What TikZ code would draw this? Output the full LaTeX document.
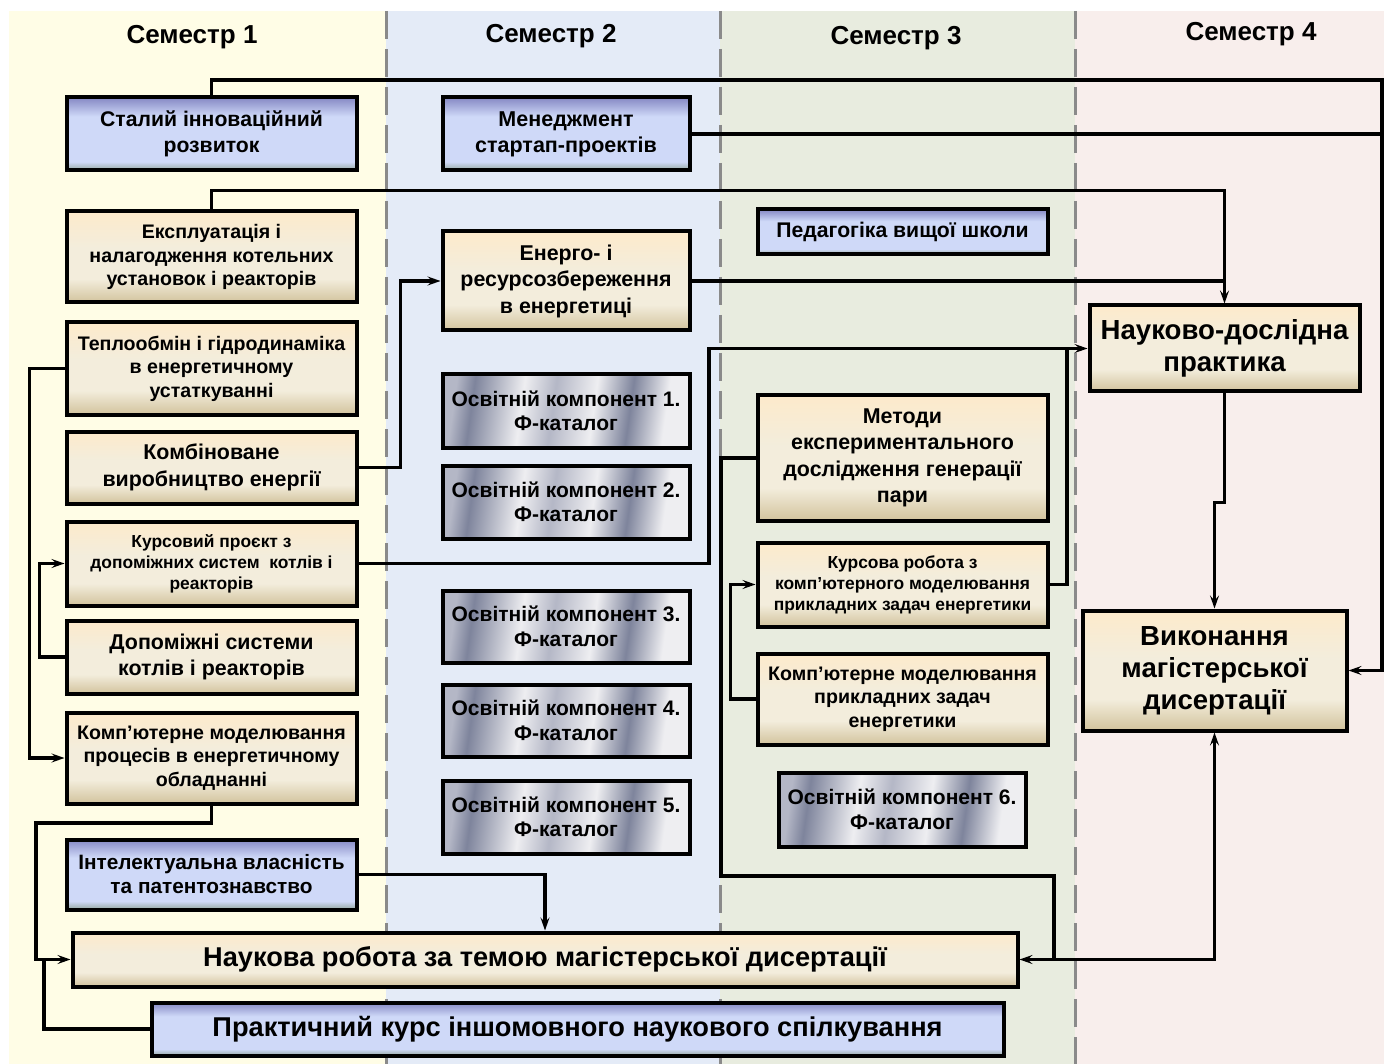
\documentclass[tikz,border=0pt]{standalone}
\usepackage{fontspec}
\setmainfont{Liberation Sans}
\usetikzlibrary{arrows.meta,calc}
\definecolor{cOne}{HTML}{FFFDE6}
\definecolor{cTwo}{HTML}{E4EBF7}
\definecolor{cThree}{HTML}{E8ECDF}
\definecolor{cFour}{HTML}{F8EEEC}
\definecolor{divc}{HTML}{8A8A8A}
\definecolor{bgT}{HTML}{FDEACB}
\definecolor{bgM}{HTML}{F3EDDC}
\definecolor{bgB}{HTML}{D2C39D}
\definecolor{blT}{HTML}{8588C4}
\definecolor{blL}{HTML}{CFD9F8}
\definecolor{blB}{HTML}{95A8A0}
\definecolor{mD}{HTML}{7E849C}
\definecolor{mL}{HTML}{EEEEF1}
\definecolor{mM}{HTML}{B4B7C6}
\pgfdeclareverticalshading{beigesh}{100bp}{color(0bp)=(bgB); color(25bp)=(bgB); color(38bp)=(bgM); color(55bp)=(bgM); color(75bp)=(bgT); color(100bp)=(bgT)}
\pgfdeclareverticalshading{bluesh}{100bp}{color(0bp)=(blB); color(25bp)=(blB); color(31bp)=(blL); color(62bp)=(blL); color(75bp)=(blT); color(100bp)=(blT)}
\pgfdeclarehorizontalshading{metalsh}{100bp}{color(0bp)=(mM); color(25bp)=(mM); color(29bp)=(mD); color(40bp)=(mL); color(47bp)=(mM); color(56bp)=(mL); color(64bp)=(mD); color(72bp)=(mL); color(75bp)=(mL); color(100bp)=(mL)}
\newcommand\fsHead{\fontsize{26}{30}\selectfont}
\newcommand\fsNorm{\fontsize{19.6}{23.5}\selectfont}
\newcommand\fsMid{\fontsize{21.2}{26}\selectfont}
\newcommand\fsOK{\fontsize{21}{24.5}\selectfont}
\newcommand\fsBigL{\fontsize{21.4}{26.5}\selectfont}
\newcommand\fsSmall{\fontsize{17.4}{21}\selectfont}
\newcommand\fsLarge{\fontsize{27.6}{32}\selectfont}
\newcommand\fsWide{\fontsize{27.2}{30}\selectfont}
\begin{document}
\begin{tikzpicture}[x=1pt,y=-1pt,
  box/.style={draw=black, line width=4pt, align=center, inner sep=1pt, font=\bfseries},
  bbox/.style={box, shading=beigesh},
  ubox/.style={box, shading=bluesh},
  mbox/.style={box, shading=metalsh, shading angle=-8},
  hdr/.style={font=\bfseries\fsHead},
  ln/.style={line width=3.2pt},
  arr/.style={ln, -{Stealth[length=13pt,width=9pt,inset=5pt]}},
  darr/.style={ln, {Stealth[length=13pt,width=9pt,inset=5pt]}-{Stealth[length=13pt,width=9pt,inset=5pt]}},
  divline/.style={divc, line width=3pt, dash pattern=on 28pt off 10pt}
]
\useasboundingbox (0,0) rectangle (1384,1064);
% column backgrounds
\fill[cOne] (9,11) rectangle (386,1064);
\fill[cTwo] (386,11) rectangle (720,1064);
\fill[cThree] (720,11) rectangle (1075,1064);
\fill[cFour] (1075,11) rectangle (1384,1064);
\draw[divline] (386,11) -- (386,1064);
\draw[divline] (720,11) -- (720,1064);
\draw[divline] (1075,11) -- (1075,1064);
% headers
\node[hdr] (h1) at (192,37) {Семестр 1};
\node[hdr] (h2) at (551,36) {Семестр 2};
\node[hdr] (h3) at (896,38) {Семестр 3};
\node[hdr] (h4) at (1251,34) {Семестр 4};
% column 1
\node[ubox, minimum width=290pt, minimum height=73pt, font=\bfseries\fsMid] (stal) at (211.5,134) {Сталий інноваційний\\розвиток};
\node[bbox, minimum width=290pt, minimum height=91pt, font=\bfseries\fsNorm] (ekspl) at (211.5,257) {Експлуатація і\\налагодження котельних\\установок і реакторів};
\node[bbox, minimum width=290pt, minimum height=92pt, font=\bfseries\fsNorm] (teplo) at (211.5,368.5) {Теплообмін і гідродинаміка\\в енергетичному\\устаткуванні};
\node[bbox, minimum width=290pt, minimum height=72pt, font=\bfseries\fsBigL] (kombi) at (211.5,467.5) {Комбіноване\\виробництво енергії};
\node[bbox, minimum width=290pt, minimum height=84pt, font=\bfseries\fsSmall] (kursp) at (211.5,563.5) {Курсовий проєкт з\\допоміжних систем\ \ котлів і\\реакторів};
\node[bbox, minimum width=290pt, minimum height=73pt, font=\bfseries\fsBigL] (dopom) at (211.5,657) {Допоміжні системи\\котлів і реакторів};
\node[bbox, minimum width=290pt, minimum height=91pt, font=\bfseries\fsNorm] (kompp) at (211.5,758) {Комп'ютерне моделювання\\процесів в енергетичному\\обладнанні};
\node[ubox, minimum width=290pt, minimum height=70pt, font=\bfseries\fontsize{20.8}{24}\selectfont] (intel) at (211.5,874.5) {Інтелектуальна власність\\та патентознавство};
\node[bbox, minimum width=945pt, minimum height=54pt, font=\bfseries\fsWide] (nauk) at (545,959.5) {Наукова робота за темою магістерської дисертації};
\node[ubox, minimum width=852pt, minimum height=53pt, font=\bfseries\fsWide] (prakt) at (577.5,1029) {Практичний курс іншомовного наукового спілкування};
% column 2
\node[ubox, minimum width=247pt, minimum height=73pt, font=\bfseries\fontsize{21.5}{26}\selectfont] (men) at (566,134) {Менеджмент\\стартап-проектів};
\node[bbox, minimum width=247pt, minimum height=99pt, font=\bfseries\fsBigL] (energo) at (566,281) {Енерго- і\\ресурсозбереження\\в енергетиці};
\node[mbox, minimum width=247pt, minimum height=73pt, font=\bfseries\fsOK] (ok1) at (566,411) {Освітній компонент 1.\\Ф-каталог};
\node[mbox, minimum width=247pt, minimum height=73pt, font=\bfseries\fsOK] (ok2) at (566,502) {Освітній компонент 2.\\Ф-каталог};
\node[mbox, minimum width=247pt, minimum height=72pt, font=\bfseries\fsOK] (ok3) at (566,626.5) {Освітній компонент 3.\\Ф-каталог};
\node[mbox, minimum width=247pt, minimum height=72pt, font=\bfseries\fsOK] (ok4) at (566,720.5) {Освітній компонент 4.\\Ф-каталог};
\node[mbox, minimum width=247pt, minimum height=73pt, font=\bfseries\fsOK] (ok5) at (566,817) {Освітній компонент 5.\\Ф-каталог};
% column 3
\node[ubox, minimum width=290pt, minimum height=45pt, font=\bfseries\fontsize{21.2}{24}\selectfont] (pedag) at (902.5,232) {Педагогіка вищої школи};
\node[bbox, minimum width=290pt, minimum height=125pt, font=\bfseries\fsBigL] (metody) at (902.5,458) {Методи\\експериментального\\дослідження генерації\\пари};
\node[bbox, minimum width=290pt, minimum height=84pt, font=\bfseries\fsSmall] (kursr) at (902.5,584.5) {Курсова робота з\\комп'ютерного моделювання\\прикладних задач енергетики};
\node[bbox, minimum width=290pt, minimum height=91pt, font=\bfseries\fsNorm] (kompr) at (902.5,699) {Комп'ютерне моделювання\\прикладних задач\\енергетики};
\node[mbox, minimum width=247pt, minimum height=74pt, font=\bfseries\fsOK] (ok6) at (902,809.5) {Освітній компонент 6.\\Ф-каталог};
% column 4
\node[bbox, minimum width=270pt, minimum height=86pt, font=\bfseries\fsLarge] (npr) at (1224.5,348.5) {Науково-дослідна\\практика};
\node[bbox, minimum width=264pt, minimum height=120pt, font=\bfseries\fsLarge] (vyk) at (1214.5,670.5) {Виконання\\магістерської\\дисертації};
% bend points
\coordinate (bA) at (1382,80);
\coordinate (bB) at (709,563.5);
\coordinate (bC) at (1067,584.5);
\coordinate (bD) at (721,876);
\coordinate (bE) at (1054,876);
\coordinate (bF) at (36,823);
\coordinate (bG) at (44,959.5);
% connectors
\draw[arr] (stal.north) |- (bA) |- (vyk.east);
\draw[ln] (men.east) -- (men.east -| bA);
\draw[arr] (ekspl.north) -- ++(0,-19) -| (npr.north);
\draw[ln] (energo.east) -- (energo.east -| npr.north);
\draw[arr] (kombi.east) -- ++(42,0) |- (energo.west);
\draw[arr] (teplo.west) -- ++(-35,0) |- (kompp.west);
\draw[arr] (dopom.west) -- ++(-25,0) |- (kursp.west);
\draw[arr] (kursp.east) -- (bB) |- (npr.west);
\draw[ln] (kursr.east) -- (bC) -- (bC |- npr.west);
\draw[ln] (metody.west) -| (bD) -- (bE) -- (bE |- nauk.east);
\draw[darr] (nauk.east) -| (vyk.south);
\draw[arr] (npr.south) -- ++(0,109) -| (vyk.north);
\draw[arr] (kompp.south) |- (bF) |- (nauk.west);
\draw[ln] (prakt.west) -| (bG);
\draw[arr] (intel.east) -| (nauk.north);
\draw[arr] (kompr.west) -- ++(-25,0) |- (kursr.west);
\end{tikzpicture}
\end{document}
